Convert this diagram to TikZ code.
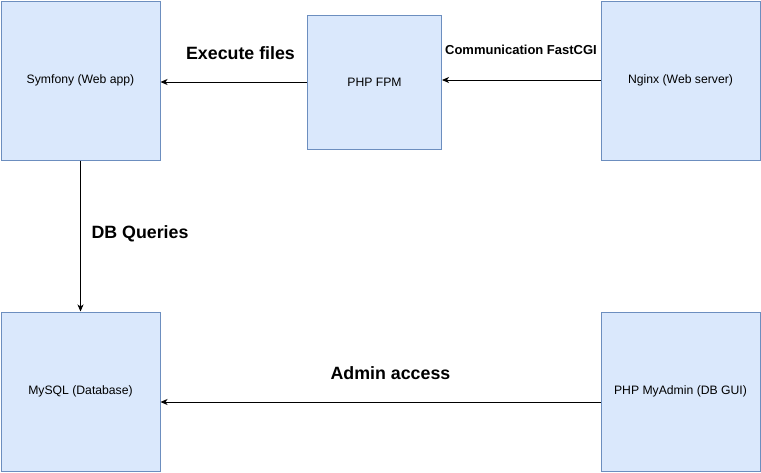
\documentclass[tikz,border=0pt]{standalone}
\usepackage{fontspec}
\setmainfont{Liberation Sans}
\usetikzlibrary{arrows.meta,positioning}

\definecolor{boxfill}{HTML}{DAE8FC}
\definecolor{boxline}{HTML}{6C8EBF}

\begin{document}
\begin{tikzpicture}[x=1pt, y=-1pt,
    service/.style={rectangle, draw=boxline, fill=boxfill, line width=1pt, minimum width=159pt, minimum height=159pt, font=\fontsize{12.2}{14}\selectfont},
    small/.style={service, minimum width=134pt, minimum height=134pt},
    arrow/.style={-{Stealth[length=7pt,width=6pt,inset=2pt]}, line width=0.9pt},
    label/.style={font=\bfseries\fontsize{17.8}{20}\selectfont},
    smalllabel/.style={font=\bfseries\fontsize{13}{15}\selectfont}
]
\useasboundingbox (0,0) rectangle (761,472);

% Services
\node[service] at (80.5,80.5) (symfony) {Symfony (Web app)};
\node[small] at (374.5,82) (fpm) {PHP FPM};
\node[service] at (680.5,80.5) (nginx) {Nginx (Web server)};
\node[service] at (80.5,391.5) (mysql) {MySQL (Database)};
\node[service] at (680.5,391.5) (pma) {PHP MyAdmin (DB GUI)};

% Connections
\draw[arrow] (fpm.west |- 0,82) -- (symfony.east |- 0,82);
\draw[arrow] (nginx.west |- 0,80) -- (fpm.east |- 0,80);
\draw[arrow] (symfony) -- (mysql);
\draw[arrow] (pma.west |- 0,402) -- (mysql.east |- 0,402);

% Labels
\node[label] at (240.5,53) (exec) {Execute files};
\node[smalllabel] at (521,50) (fcgi) {Communication FastCGI};
\node[label] at (140,234) (dbq) {DB Queries};
\node[label] at (390.5,373) (admin) {Admin access};

\end{tikzpicture}
\end{document}
